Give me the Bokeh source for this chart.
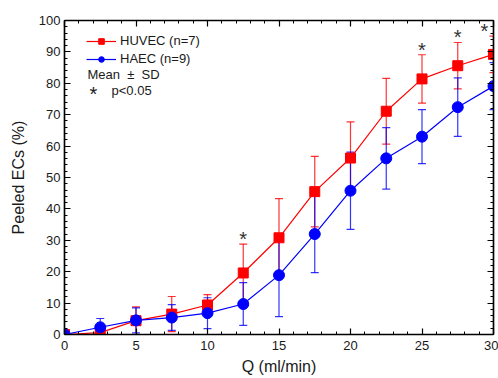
from bokeh.plotting import figure
from bokeh.models import (ColumnDataSource, Whisker, LinearAxis, Legend, LegendItem,
                          Label, Range1d, TeeHead, SingleIntervalTicker, CustomJSTickFormatter)
from bokeh.embed import file_html
from bokeh.resources import INLINE
from bokeh.core.properties import value

# ---- data ----
q = [0, 2.5, 5, 7.5, 10, 12.5, 15, 17.5, 20, 22.5, 25, 27.5, 30]
huvec_mean = [0, 0.6, 4.4, 6.5, 9.4, 19.6, 30.8, 45.5, 56.2, 71.1, 81.4, 85.6, 89.2]
huvec_sd = [0, 0.8, 4.4, 5.6, 3.3, 9.2, 12.5, 11.2, 11.5, 10.5, 7.7, 7.4, 5.8]
haec_mean = [0, 2.3, 4.5, 5.4, 6.8, 9.7, 18.9, 32.0, 45.8, 56.1, 63.0, 72.4, 79.1]
haec_sd = [0, 2.8, 4.0, 4.1, 4.9, 6.8, 13.2, 12.3, 12.3, 9.8, 8.6, 9.3, 7.5]
sig_q = [12.5, 25, 27.5, 30]
huvec_label = "HUVEC (n=7)"
haec_label = "HAEC (n=9)"

FONT = "Liberation Sans"
TXT = "#1a1a1a"
RED = "#ff0000"
BLUE = "#0000ff"

src_r = ColumnDataSource(dict(q=q, m=huvec_mean,
                              lo=[m - s for m, s in zip(huvec_mean, huvec_sd)],
                              hi=[m + s for m, s in zip(huvec_mean, huvec_sd)]))
src_b = ColumnDataSource(dict(q=q, m=haec_mean,
                              lo=[m - s for m, s in zip(haec_mean, haec_sd)],
                              hi=[m + s for m, s in zip(haec_mean, haec_sd)]))

p = figure(width=498, height=378, x_range=Range1d(0, 30), y_range=Range1d(0, 100),
           output_backend="svg", toolbar_location=None,
           min_border_left=64, min_border_right=5, min_border_top=20, min_border_bottom=44,
           x_axis_label="Q (ml/min)", y_axis_label="Peeled ECs (%)")
p.xgrid.visible = False
p.ygrid.visible = False
p.outline_line_color = "black"
p.outline_line_width = 1.2

blank = CustomJSTickFormatter(code="return ''")
p.add_layout(LinearAxis(formatter=blank), "above")
p.add_layout(LinearAxis(formatter=blank), "right")

for ax in p.xaxis:
    ax.ticker = SingleIntervalTicker(interval=5, num_minor_ticks=5)
for ax in p.yaxis:
    ax.ticker = SingleIntervalTicker(interval=10, num_minor_ticks=5)

for ax in p.axis:
    ax.major_tick_in = 6
    ax.major_tick_out = 0
    ax.minor_tick_in = 3
    ax.minor_tick_out = 0
    ax.axis_line_color = "black"
    ax.axis_line_width = 1.5
    ax.major_tick_line_color = "black"
    ax.major_tick_line_width = 1.2
    ax.minor_tick_line_color = "black"
    ax.minor_tick_line_width = 1
    ax.major_label_text_font = FONT
    ax.major_label_text_font_size = "13px"
    ax.major_label_text_color = TXT
    ax.axis_label_text_font = FONT
    ax.axis_label_text_font_size = "16px"
    ax.axis_label_text_font_style = "normal"
    ax.axis_label_text_color = TXT

p.below[0].major_label_standoff = 6
p.below[0].axis_label_standoff = 5
p.left[0].major_label_standoff = 4
p.left[0].axis_label_standoff = 9

for ax in (p.above[0], p.right[0]):
    ax.major_label_standoff = 0

# HUVEC (red)
p.add_layout(Whisker(source=src_r, base="q", lower="lo", upper="hi", dimension="height",
                     line_color=RED, line_alpha=0.8, line_width=1.2,
                     upper_head=TeeHead(size=8, line_color=RED, line_alpha=0.8, line_width=1.2),
                     lower_head=TeeHead(size=8, line_color=RED, line_alpha=0.8, line_width=1.2)))
r_line = p.line("q", "m", source=src_r, line_color=RED, line_width=1.2)
r_sc = p.scatter("q", "m", source=src_r, marker="square", size=10, fill_color=RED, line_color=RED)

# HAEC (blue)
p.add_layout(Whisker(source=src_b, base="q", lower="lo", upper="hi", dimension="height",
                     line_color=BLUE, line_alpha=0.8, line_width=1.2,
                     upper_head=TeeHead(size=8, line_color=BLUE, line_alpha=0.8, line_width=1.2),
                     lower_head=TeeHead(size=8, line_color=BLUE, line_alpha=0.8, line_width=1.2)))
b_line = p.line("q", "m", source=src_b, line_color=BLUE, line_width=1.2)
b_sc = p.scatter("q", "m", source=src_b, marker="circle", size=11, fill_color=BLUE, line_color=BLUE)

# significance asterisks above HUVEC upper error bar
hi_r = dict(zip(q, src_r.data["hi"]))
src_s = ColumnDataSource(dict(x=sig_q, y=[hi_r[v] for v in sig_q], t=["*"] * len(sig_q),
                              xo=[0, 0, 0, -9]))
p.text("x", "y", text="t", source=src_s, x_offset="xo", y_offset=-5,
       text_font=value(FONT), text_font_size="20px", text_color="#333333",
       text_align="center", text_baseline="middle")

legend = Legend(items=[LegendItem(label=huvec_label, renderers=[r_line, r_sc]),
                       LegendItem(label=haec_label, renderers=[b_line, b_sc])],
                location=(22, 268))
legend.background_fill_alpha = 0
legend.border_line_color = None
legend.padding = 0
legend.margin = 0
legend.spacing = 3
legend.glyph_width = 30
legend.glyph_height = 14
legend.label_height = 14
legend.label_standoff = 4
legend.label_text_font = FONT
legend.label_text_font_size = "13px"
legend.label_text_color = TXT
p.add_layout(legend)

p.add_layout(Label(x=23, y=260, x_units="screen", y_units="screen",
                   text="Mean\u00a0\u00a0\u00b1\u00a0\u00a0SD",
                   text_font=FONT, text_font_size="13px", text_color=TXT, text_baseline="middle"))
p.add_layout(Label(x=29, y=241, x_units="screen", y_units="screen", text="*",
                   text_font=FONT, text_font_size="20px", text_color=TXT,
                   text_align="center", text_baseline="middle"))
p.add_layout(Label(x=47, y=244, x_units="screen", y_units="screen", text="p<0.05",
                   text_font=FONT, text_font_size="13px", text_color=TXT, text_baseline="middle"))

open("out.html", "w").write(file_html(p, INLINE))
